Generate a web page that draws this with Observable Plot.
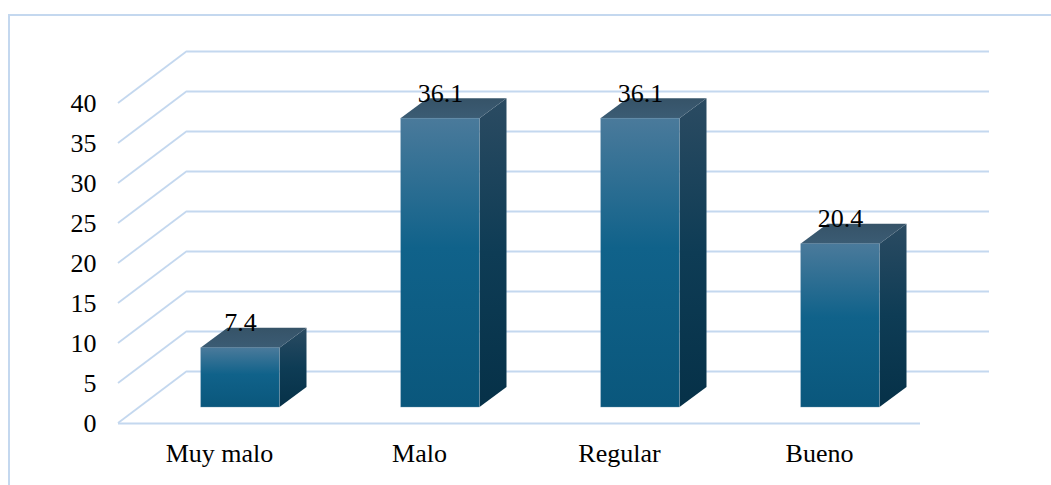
<!DOCTYPE html>
<html>
<head>
<meta charset="utf-8">
<script src="https://cdn.jsdelivr.net/npm/d3@7"></script>
<script src="https://cdn.jsdelivr.net/npm/@observablehq/plot@0.6"></script>
<style>
  body { margin: 0; background: #fff; }
  #chart svg text { font-family: "Liberation Serif", "Times New Roman", Times, serif !important; }
</style>
</head>
<body>
<div id="chart"></div>
<script>
// Categories, values and axis ticks
const categories = ["Muy malo", "Malo", "Regular", "Bueno"];
const values = [7.4, 36.1, 36.1, 20.4];
const yTicks = [0, 5, 10, 15, 20, 25, 30, 35, 40];

const data = categories.map((category, i) => ({category, value: values[i]}));

const font = "Liberation Serif";
const gridColor = "#c4d8ef";

// Oblique projection of the chart box: depth of the walls and of each bar
const wallDx = 69, wallDy = -52;
const barDx = 21, barDy = -16;
const depthDx = 27, depthDy = -20;
const barWidth = 79;

const W = 1051, H = 485;
const margin = {top: 103, right: 131, bottom: 62, left: 118};
const band = (W - margin.left - margin.right) / categories.length;
const inset = (band - barWidth) / 2;

// Gradient definitions for the bar faces
function gradients() {
  const g = d3.create("svg:g");
  const defs = g.append("defs");
  const lin = (id, stops) => {
    const lg = defs.append("linearGradient").attr("id", id)
      .attr("x1", 0).attr("y1", 0).attr("x2", 0).attr("y2", 1);
    for (const [o, c] of stops) lg.append("stop").attr("offset", o).attr("stop-color", c);
  };
  lin("face-front", [[0, "#4a7a9b"], [0.45, "#10628a"], [1, "#0a577c"]]);
  lin("face-side", [[0, "#2b4b62"], [0.5, "#0e3c55"], [1, "#063148"]]);
  lin("face-top", [[0, "#365368"], [1, "#3b5c74"]]);
  return g.node();
}

// Outer frame of the chart area
function frameBorder() {
  return d3.create("svg:rect")
    .attr("x", 9).attr("y", 15).attr("width", 1100).attr("height", 600)
    .attr("fill", "none").attr("stroke", gridColor).attr("stroke-width", 2)
    .node();
}

// Slanted gridlines of the left wall, one per tick
function leftWall(index, scales, values, dimensions) {
  const g = d3.create("svg:g")
    .attr("stroke", gridColor).attr("stroke-width", 1.8).attr("fill", "none");
  const x0 = dimensions.marginLeft;
  for (const t of yTicks) {
    const y = scales.y(t);
    g.append("line")
      .attr("x1", x0).attr("y1", y)
      .attr("x2", x0 + wallDx).attr("y2", y + wallDy);
  }
  return g.node();
}

// Top and side faces of each 3D bar
function barFaces(index, scales) {
  const g = d3.create("svg:g");
  const bw = typeof scales.x.bandwidth === "function" ? scales.x.bandwidth() : band;
  for (const d of data) {
    const cx = scales.x(d.category) + bw / 2;
    const xl = cx + barDx - barWidth / 2;
    const xr = xl + barWidth;
    const yt = scales.y(d.value) + barDy;
    const yb = scales.y(0) + barDy;
    const side = [[xr, yt], [xr + depthDx, yt + depthDy], [xr + depthDx, yb + depthDy], [xr, yb]];
    const top = [[xl, yt], [xr, yt], [xr + depthDx, yt + depthDy], [xl + depthDx, yt + depthDy]];
    g.append("polygon").attr("points", side.join(" ")).attr("fill", "url(#face-side)");
    g.append("polygon").attr("points", top.join(" ")).attr("fill", "url(#face-top)");
  }
  return g.node();
}

const chart = Plot.plot({
  width: W,
  height: H,
  marginTop: margin.top,
  marginRight: margin.right,
  marginBottom: margin.bottom,
  marginLeft: margin.left,
  style: {background: "#fff", fontFamily: font, fontSize: "26px", color: "#000", overflow: "visible"},
  x: {domain: categories, padding: 0, axis: null},
  y: {domain: [0, 40], axis: null},
  marks: [
    gradients,
    frameBorder,
    // back wall gridlines
    Plot.ruleY(yTicks, {y: d => d, dx: wallDx, dy: wallDy, stroke: gridColor, strokeWidth: 1.8}),
    leftWall,
    // front edge of the floor
    Plot.ruleY([0], {stroke: gridColor, strokeWidth: 1.8}),
    barFaces,
    // front faces of the bars
    Plot.barY(data, {
      x: "category", y: "value",
      dx: barDx, dy: barDy,
      insetLeft: inset, insetRight: inset,
      fill: "url(#face-front)",
      stroke: "#5f8cab", strokeWidth: 0.6, strokeOpacity: 0.6
    }),
    // value labels
    Plot.text(data, {
      x: "category", y: "value",
      text: d => d.value.toFixed(1),
      dx: barDx, dy: barDy + depthDy + 3,
      lineAnchor: "bottom",
      fill: "#000", fontSize: 26, fontFamily: font
    }),
    // y tick labels
    Plot.text(yTicks, {
      y: d => d, text: d => String(d),
      frameAnchor: "left", textAnchor: "end", dx: -22,
      fill: "#000", fontSize: 26, fontFamily: font
    }),
    // category labels
    Plot.text(categories, {
      x: d => d, text: d => d,
      frameAnchor: "bottom", lineAnchor: "top", dy: 20,
      fill: "#000", fontSize: 26, fontFamily: font
    })
  ]
});

document.getElementById("chart").appendChild(chart);
</script>
</body>
</html>
